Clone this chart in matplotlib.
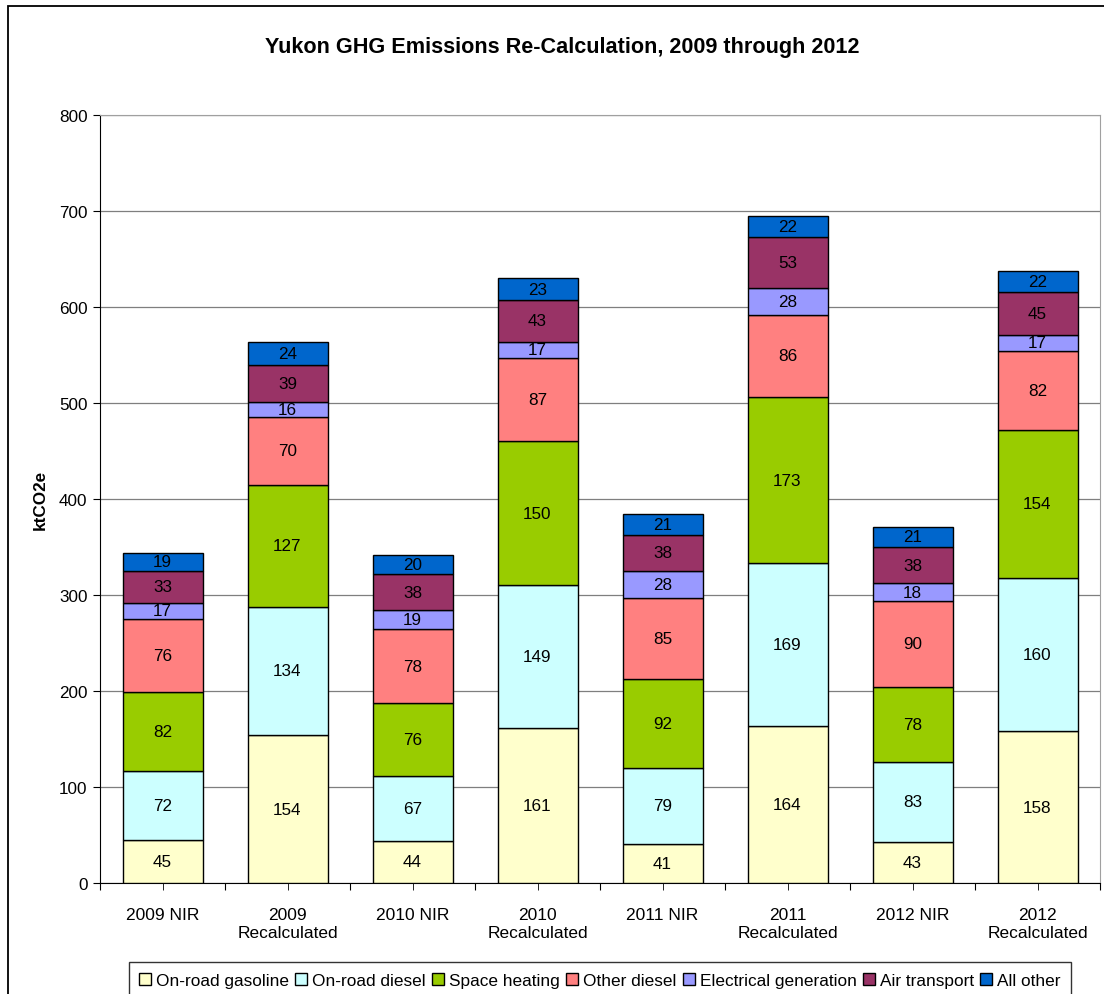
import matplotlib.pyplot as plt
from matplotlib.patches import Rectangle
import numpy as np

# categorias e valores (ktCO2e)
categorias = ["2009 NIR", "2009\nRecalculated", "2010 NIR", "2010\nRecalculated",
              "2011 NIR", "2011\nRecalculated", "2012 NIR", "2012\nRecalculated"]

gasolina = [45, 154, 44, 161, 41, 164, 43, 158]
diesel_estrada = [72, 134, 67, 149, 79, 169, 83, 160]
aquecimento = [82, 127, 76, 150, 92, 173, 78, 154]
outro_diesel = [76, 70, 78, 87, 85, 86, 90, 82]
eletrica = [17, 16, 19, 17, 28, 28, 18, 17]
transporte_aereo = [33, 39, 38, 43, 38, 53, 38, 45]
outros = [19, 24, 20, 23, 21, 22, 21, 22]

series = [
    ("On-road gasoline", gasolina, "#FFFFCC"),
    ("On-road diesel", diesel_estrada, "#CCFFFF"),
    ("Space heating", aquecimento, "#99CC00"),
    ("Other diesel", outro_diesel, "#FF8080"),
    ("Electrical generation", eletrica, "#9999FF"),
    ("Air transport", transporte_aereo, "#993366"),
    ("All other", outros, "#0066CC"),
]

plt.rcParams["font.family"] = ["Liberation Sans", "DejaVu Sans"]

W, H = 1104, 995
fig = plt.figure(figsize=(W / 100, H / 100), dpi=100)
ax = fig.add_axes([100 / W, (H - 884) / H, 1000 / W, 768 / H])

x = np.arange(len(categorias))
base = np.zeros(len(categorias))
for nome, vals, cor in series:
    vals = np.array(vals, dtype=float)
    ax.bar(x, vals, 0.64, bottom=base, color=cor, edgecolor="black",
           linewidth=1.0, label=nome, zorder=3)
    for xi, b, v in zip(x, base, vals):
        ax.text(xi, b + v / 2, f"{int(v)}", ha="center", va="center",
                fontsize=12.3, color="black", zorder=4)
    base += vals

ax.set_xlim(-0.5, len(categorias) - 0.5)
ax.set_ylim(0, 800)
ax.set_yticks(range(0, 801, 100))
ax.tick_params(axis="y", labelsize=12.3, length=5, direction="out", pad=4)
ax.yaxis.grid(True, color="#7f7f7f", linewidth=0.9, zorder=0)

# ticks nas fronteiras e nos centros
ax.set_xticks(np.arange(-0.5, len(categorias), 1.0))
ax.set_xticklabels([])
ax.set_xticks(x, minor=True)
ax.set_xticklabels(categorias, minor=True, fontsize=12.5, linespacing=1.3)
ax.tick_params(axis="x", which="both", length=5, direction="out")
ax.tick_params(axis="x", which="minor", pad=12)

for lado in ["top", "right"]:
    ax.spines[lado].set_color("#a0a0a0")
for lado in ["left", "bottom"]:
    ax.spines[lado].set_color("black")

ax.set_ylabel("ktCO2e", fontsize=12.3, fontweight="bold", labelpad=8)
fig.text(562 / W, 1 - 47 / H, "Yukon GHG Emissions Re-Calculation, 2009 through 2012",
         ha="center", va="center", fontsize=15.6, fontweight="bold")

# borda externa do gráfico
fig.patches.append(Rectangle((8 / W, -0.01), 1.2, 1 - 7 / H + 0.01, transform=fig.transFigure,
                             fill=False, edgecolor="black", linewidth=1.3))

leg = fig.legend(loc="lower center", bbox_to_anchor=(600 / W, -4 / H), ncol=7,
                 fontsize=12.4, frameon=True, fancybox=False, edgecolor="black",
                 handlelength=0.7, handleheight=0.7, handletextpad=0.3,
                 columnspacing=0.35, borderpad=0.6, borderaxespad=0)
leg.get_frame().set_linewidth(1.0)

fig.savefig("out.png", dpi=100)
